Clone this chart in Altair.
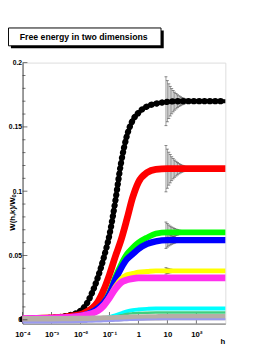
import altair as alt
import pandas as pd

# log10(h) grid at which the curves were read
LOG_H = [-4.0, -3.5, -3.0, -2.6, -2.3, -2.0, -1.8, -1.6, -1.4, -1.2, -1.0, -0.8,
         -0.6, -0.4, -0.2, 0.0, 0.3, 0.6, 1.0, 1.5, 2.0, 2.5, 3.0]

W_BLACK = [0.0005, 0.001, 0.0015, 0.0025, 0.004, 0.007, 0.012, 0.021, 0.033, 0.048, 0.066, 0.092,
           0.122, 0.143, 0.155, 0.161, 0.166, 0.168, 0.1695, 0.170, 0.170, 0.170, 0.170]
W_RED = [0.0005, 0.001, 0.0015, 0.002, 0.003, 0.004, 0.006, 0.009, 0.014, 0.023, 0.035, 0.049,
         0.062, 0.078, 0.095, 0.107, 0.1145, 0.117, 0.1175, 0.1175, 0.1175, 0.1175, 0.1175]
W_GREEN = [0.0005, 0.0008, 0.001, 0.0015, 0.002, 0.003, 0.004, 0.006, 0.009, 0.013, 0.021, 0.033,
           0.043, 0.051, 0.056, 0.060, 0.064, 0.067, 0.068, 0.068, 0.068, 0.068, 0.068]
W_BLUE = [0.0005, 0.0008, 0.001, 0.0015, 0.002, 0.003, 0.004, 0.006, 0.009, 0.013, 0.020, 0.031,
          0.040, 0.047, 0.051, 0.055, 0.059, 0.061, 0.062, 0.062, 0.062, 0.062, 0.062]
W_YELLOW = [0.0008, 0.001, 0.0013, 0.0017, 0.002, 0.0028, 0.0038, 0.005, 0.007, 0.011, 0.018, 0.026,
            0.032, 0.035, 0.036, 0.037, 0.0375, 0.038, 0.038, 0.038, 0.038, 0.038, 0.038]
W_MAGENTA = [0.0008, 0.001, 0.0013, 0.0017, 0.002, 0.0028, 0.0038, 0.005, 0.007, 0.011, 0.017, 0.024,
             0.029, 0.031, 0.032, 0.0325, 0.0325, 0.0325, 0.0325, 0.0325, 0.0325, 0.0325, 0.0325]
W_CYAN = [0.0012, 0.0012, 0.0012, 0.0012, 0.0012, 0.0012, 0.0012, 0.0012, 0.0012, 0.0013, 0.002, 0.0035,
          0.005, 0.0065, 0.0075, 0.008, 0.0085, 0.0088, 0.0088, 0.0088, 0.0088, 0.0088, 0.0088]
W_SEAGREEN = [0.0015, 0.0015, 0.0015, 0.0015, 0.0015, 0.0015, 0.0015, 0.0015, 0.0015, 0.0015, 0.0017, 0.0025,
              0.0035, 0.0045, 0.005, 0.0053, 0.0055, 0.0056, 0.0056, 0.0056, 0.0056, 0.0056, 0.0056]
W_GRAY = [0.0004, 0.0004, 0.0005, 0.0005, 0.0006, 0.0006, 0.0007, 0.0008, 0.0009, 0.001, 0.0011, 0.0012,
          0.0013, 0.0015, 0.0016, 0.0017, 0.0018, 0.0019, 0.002, 0.002, 0.002, 0.002, 0.002]
W_LAVENDER = [-0.0022, -0.0022, -0.0021, -0.002, -0.0019, -0.0018, -0.0017, -0.0016, -0.0014, -0.0012, -0.001, -0.0008,
              -0.0006, -0.0004, -0.0002, 0.0, 0.0002, 0.0003, 0.0004, 0.0004, 0.0004, 0.0004, 0.0004]

# error bars (log10 h, half-widths) around the plateaus
EB_LOG_H = [0.95, 1.0, 1.05, 1.1, 1.15, 1.2, 1.25, 1.3, 1.35, 1.4, 1.45, 1.5, 1.55, 1.6, 1.7, 1.8]
EB_CENTER = {"black": 0.170, "red": 0.1175, "green": 0.068, "blue": 0.062, "yellow": 0.038, "magenta": 0.0325}
EB_ERR = {
    "black": [0.019, 0.016, 0.0135, 0.0115, 0.0098, 0.0083, 0.007, 0.006, 0.005, 0.0042, 0.0035, 0.0029, 0.0024, 0.002, 0.0014, 0.001],
    "red": [0.018, 0.0152, 0.0128, 0.011, 0.0093, 0.0079, 0.0067, 0.0057, 0.0048, 0.004, 0.0033, 0.0028, 0.0023, 0.0019, 0.0013, 0.001],
    "green": [0.008, 0.0068, 0.0057, 0.0048, 0.0041, 0.0035, 0.003, 0.0025, 0.0021, 0.0018, 0.0015, 0.0012, 0.001, 0.0008, 0.0006, 0.0004],
    "blue": [0.0065, 0.0055, 0.0046, 0.0039, 0.0033, 0.0028, 0.0024, 0.002, 0.0017, 0.0014, 0.0012, 0.001, 0.0008, 0.0007, 0.0005, 0.0003],
    "yellow": [0.0025, 0.002, 0.0017, 0.0014, 0.0012, 0.001, 0.0008, 0.0007, 0.0006, 0.0005, 0.0004, 0.0003, 0.0003, 0.0002, 0.0002, 0.0001],
    "magenta": [0.002, 0.0017, 0.0014, 0.0012, 0.001, 0.0008, 0.0007, 0.0006, 0.0005, 0.0004, 0.0003, 0.0003, 0.0002, 0.0002, 0.0001, 0.0001],
}

X_TICKS = [1e-4, 1e-3, 1e-2, 1e-1, 1, 10, 100]
Y_MAJOR = [0, 0.05, 0.1, 0.15, 0.2]
Y_MINOR = [0.01, 0.02, 0.03, 0.04, 0.06, 0.07, 0.08, 0.09, 0.11, 0.12, 0.13, 0.14, 0.16, 0.17, 0.18, 0.19]

TITLE = "Free energy in two dimensions"
FONT = "Liberation Sans"

H = [10 ** v for v in LOG_H]
series = {
    "black": W_BLACK, "red": W_RED, "green": W_GREEN, "blue": W_BLUE, "yellow": W_YELLOW,
    "magenta": W_MAGENTA, "cyan": W_CYAN, "seagreen": W_SEAGREEN, "gray": W_GRAY, "lavender": W_LAVENDER,
}

xs = alt.Scale(type="log", domain=[1e-4, 1e3], nice=False)
ys = alt.Scale(domain=[-0.003, 0.2], nice=False, zero=False)

x_label_expr = ("datum.value < 0.0005 ? '10⁻⁴' : datum.value < 0.005 ? '10⁻³' : "
                "datum.value < 0.05 ? '10⁻²' : datum.value < 0.5 ? '10⁻¹' : "
                "datum.value < 5 ? '1' : datum.value < 50 ? '10' : '10²'")

x_axis = alt.Axis(values=X_TICKS, labelExpr=x_label_expr, ticks=False, grid=False,
                  labelFont=FONT, labelFontSize=8, labelFontWeight="bold", labelPadding=7,
                  labelColor="black", domainColor="#666", title="h", titleFont=FONT,
                  titleFontSize=8, titleFontWeight="bold", titleX=206, titleY=18,
                  titleBaseline="middle", titleAlign="center", labelFlush=False)
y_axis = alt.Axis(values=Y_MAJOR, format="~g", ticks=False, grid=False,
                  labelFont=FONT, labelFontSize=7, labelFontWeight="bold", labelPadding=1,
                  labelColor="black", domainColor="#444", title="W(h,k)/Wₒ", titleFont=FONT,
                  titleFontSize=8, titleFontWeight="bold", titleX=-10, titleY=154,
                  titleAlign="center", titleBaseline="middle", titleAngle=270)


def X(field):
    return alt.X(field, scale=xs, axis=x_axis)


def Y(field):
    return alt.Y(field, scale=ys, axis=y_axis)


def curve_df(name):
    return pd.DataFrame({"h": H, "W": series[name]})


def line_layer(name, color, width, cap="butt", dash=None):
    kw = {}
    if dash is not None:
        kw["strokeDash"] = dash
    return alt.Chart(curve_df(name)).mark_line(
        color=color, strokeWidth=width, interpolate="monotone", strokeCap=cap, **kw
    ).encode(x=X("h:Q"), y=Y("W:Q"))


# error bars
eb_rows = []
for name, errs in EB_ERR.items():
    c = EB_CENTER[name]
    for lh, e in zip(EB_LOG_H, errs):
        eb_rows.append({"h": 10 ** lh, "lo": c - e, "hi": c + e})
eb_df = pd.DataFrame(eb_rows)

eb_rule = alt.Chart(eb_df).mark_rule(color="#9a9a9a", strokeWidth=1).encode(
    x=X("h:Q"), y=Y("lo:Q"), y2="hi:Q")
eb_cap_lo = alt.Chart(eb_df).mark_tick(color="#555", orient="horizontal", size=3, thickness=1).encode(
    x=X("h:Q"), y=Y("lo:Q"))
eb_cap_hi = alt.Chart(eb_df).mark_tick(color="#555", orient="horizontal", size=3, thickness=1).encode(
    x=X("h:Q"), y=Y("hi:Q"))

# axis ticks drawn inward
ymaj = alt.Chart(pd.DataFrame({"v": Y_MAJOR})).mark_tick(color="#333", orient="horizontal", size=5, thickness=1).encode(
    y=Y("v:Q"), x=alt.value(2.5))
ymin = alt.Chart(pd.DataFrame({"v": Y_MINOR})).mark_tick(color="#333", orient="horizontal", size=3, thickness=1).encode(
    y=Y("v:Q"), x=alt.value(1.5))
xmaj = alt.Chart(pd.DataFrame({"v": X_TICKS})).mark_tick(color="#333", orient="vertical", size=12, thickness=1).encode(
    x=X("v:Q"), y=alt.value(263))

# title box
one = alt.Data(values=[{"a": 1}])
shadow = alt.Chart(one).mark_rect(color="black").encode(
    x=alt.value(-12), x2=alt.value(145.5), y=alt.value(-33), y2=alt.value(-14.8))
box = alt.Chart(one).mark_rect(fill="white", stroke="black", strokeWidth=1).encode(
    x=alt.value(-14.5), x2=alt.value(142.7), y=alt.value(-35.7), y2=alt.value(-17.3))
title_txt = alt.Chart(one).mark_text(font=FONT, fontSize=9, fontWeight="bold", align="center",
                                      baseline="middle", color="black").encode(
    x=alt.value(63), y=alt.value(-26.3), text=alt.value(TITLE))

chart = alt.layer(
    line_layer("black", "black", 4),
    xmaj,
    eb_rule, eb_cap_lo, eb_cap_hi,
    line_layer("cyan", "#00ffff", 4),
    line_layer("seagreen", "#3fcf7f", 2.5),
    line_layer("black", "black", 6.5, cap="round", dash=[0.01, 5.5]),
    line_layer("red", "#ff0000", 7),
    line_layer("green", "#00ff00", 6),
    line_layer("blue", "#0000ff", 6.5),
    line_layer("yellow", "#ffff00", 5),
    line_layer("magenta", "#ff30ee", 7),
    line_layer("gray", "#b6aea6", 6.5),
    line_layer("lavender", "#9a9af0", 2),
    ymaj, ymin,
    shadow, box, title_txt,
).properties(
    width=209, height=269,
    autosize=alt.AutoSizeParams(type="none"),
    padding={"left": 15, "top": 51, "right": 45, "bottom": 25},
).configure_view(stroke="#777", strokeWidth=1).configure(background="white")

chart.save("out.html", embed_options={"renderer": "svg", "actions": False})
